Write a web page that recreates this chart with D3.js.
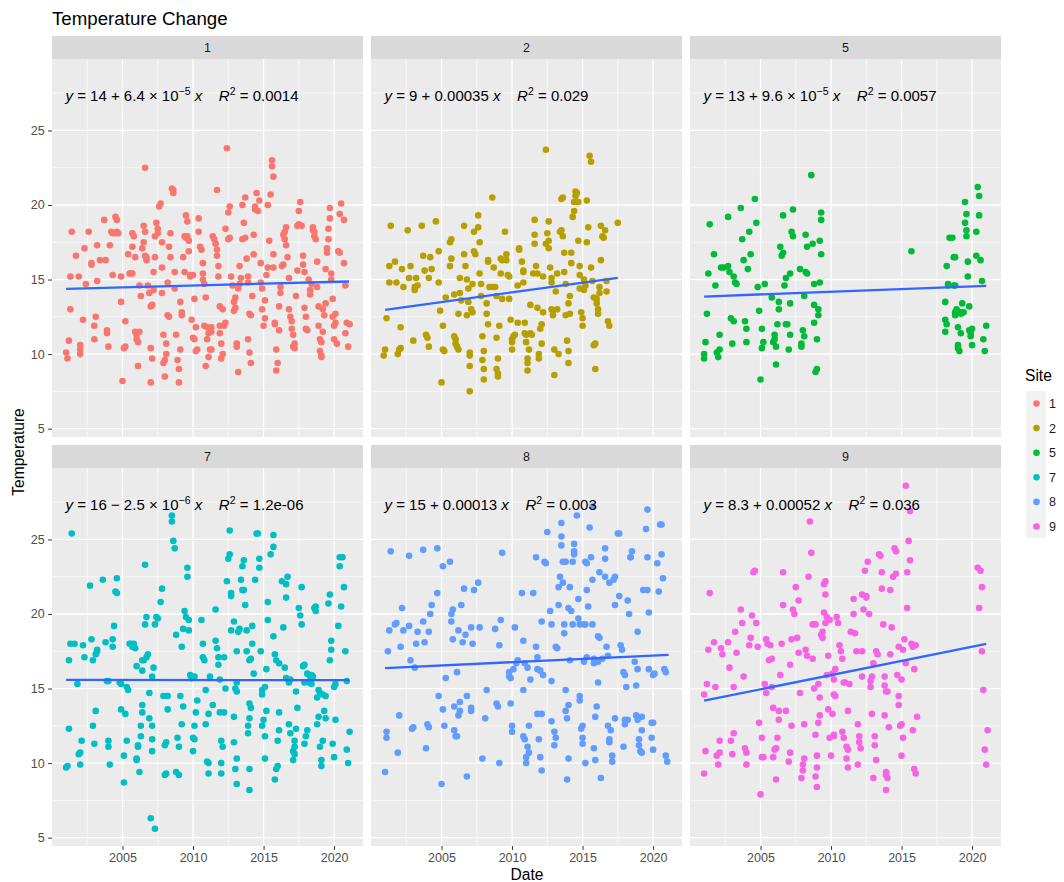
<!DOCTYPE html>
<html>
<head>
<meta charset="utf-8">
<script src="https://cdn.jsdelivr.net/npm/d3@7"></script>
<style>
    body { margin: 0; background: #ffffff; }
    svg { display: block; font-family: "Liberation Sans", Arial, Helvetica, sans-serif; }
</style>
</head>
<body>
<div id="chart"></div>
<script>
(function () {
    "use strict";

    const chartTitle = "Temperature Change";
    const xTitle = "Date";
    const yTitle = "Temperature";
    const legendTitle = "Site";

    const sites = ["1", "2", "5", "7", "8", "9"];
    const siteColors = ["#F8766D", "#B79F00", "#00BA38", "#00BFC4", "#619CFF", "#F564E3"];

    const xTicks = [2005, 2010, 2015, 2020];
    const xMinorTicks = [2002.5, 2007.5, 2012.5, 2017.5];
    const yTicks = [5, 10, 15, 20, 25];
    const yMinorTicks = [7.5, 12.5, 17.5, 22.5, 27.5];

    // lm fits as printed in each facet
    const eqIntercepts = ["14", "9", "13", "16", "15", "8.3"];
    const eqSigns = ["+", "+", "+", "\u2212", "+", "+"];
    const eqSlopes = ["6.4", "0.00035", "9.6", "2.5", "0.00013", "0.00052"];
    const eqExponents = ["\u22125", "", "\u22125", "\u22126", "", ""];
    const eqR2 = ["0.0014", "0.029", "0.0057", "1.2e-06", "0.003", "0.036"];

    // fitted line ends [year, temperature]
    const trendLines = [
        [[2001.0, 14.38], [2021.06, 14.87]],
        [[2001.0, 12.97], [2017.5, 15.11]],
        [[2001.0, 13.86], [2021.0, 14.58]],
        [[2001.0, 15.58], [2021.05, 15.56]],
        [[2001.0, 16.37], [2021.1, 17.26]],
        [[2001.0, 14.19], [2021.0, 17.99]]
    ];

    const site1 = [[2001.0,10.1],[2001.1,9.7],[2001.2,10.9],[2001.3,13.0],[2001.3,15.2],[2001.4,18.2],[2001.7,16.6],[2001.9,15.2],[2002.0,10.6],[2002.0,10.3],[2002.0,10.0],[2002.2,12.3],[2002.3,17.1],[2002.4,14.7],[2002.6,18.2],[2002.8,16.1],[2002.8,16.0],[2003.0,11.0],[2003.0,11.9],[2003.1,12.5],[2003.2,14.9],[2003.2,17.3],[2003.4,16.3],[2003.7,19.0],[2003.8,16.3],[2003.9,11.6],[2003.9,11.4],[2004.0,10.5],[2004.1,17.3],[2004.2,18.2],[2004.3,18.1],[2004.5,18.1],[2004.6,18.2],[2004.7,18.1],[2004.3,15.3],[2004.5,19.2],[2004.6,19.0],[2004.9,15.2],[2004.9,13.5],[2005.0,8.2],[2005.1,10.4],[2005.2,12.2],[2005.2,10.5],[2005.4,16.7],[2005.5,15.4],[2005.6,15.4],[2005.7,15.4],[2005.7,17.2],[2005.7,18.1],[2005.8,17.9],[2005.9,16.5],[2005.9,11.5],[2006.0,11.3],[2006.0,11.0],[2006.1,10.8],[2006.1,9.2],[2006.2,11.5],[2006.2,14.6],[2006.3,13.9],[2006.4,17.1],[2006.5,18.6],[2006.5,17.5],[2006.6,22.5],[2006.6,16.6],[2006.6,18.2],[2006.7,16.3],[2006.7,16.5],[2006.8,14.6],[2006.9,14.1],[2007.0,13.2],[2007.0,8.1],[2007.0,10.4],[2007.1,9.7],[2007.1,13.3],[2007.2,14.3],[2007.2,15.5],[2007.3,17.9],[2007.3,16.5],[2007.4,18.8],[2007.5,18.4],[2007.5,18.1],[2007.6,19.9],[2007.7,20.1],[2007.8,17.5],[2007.8,14.1],[2007.8,15.8],[2007.9,11.3],[2007.9,9.4],[2008.0,9.6],[2008.0,8.5],[2008.1,10.0],[2008.1,10.7],[2008.2,14.8],[2008.2,12.6],[2008.3,12.5],[2008.3,17.2],[2008.4,18.1],[2008.4,16.5],[2008.5,21.1],[2008.6,21.0],[2008.6,20.8],[2008.7,14.4],[2008.7,15.5],[2008.8,11.3],[2008.9,9.6],[2009.0,9.0],[2009.0,8.1],[2009.1,10.3],[2009.1,13.5],[2009.2,12.8],[2009.2,12.6],[2009.3,16.5],[2009.4,15.5],[2009.4,17.9],[2009.5,17.8],[2009.5,19.3],[2009.6,18.9],[2009.6,17.9],[2009.7,17.6],[2009.7,16.9],[2009.8,15.3],[2009.8,15.2],[2009.9,12.3],[2010.0,15.3],[2010.0,11.1],[2010.1,11.0],[2010.2,10.2],[2010.1,13.7],[2010.2,11.8],[2010.3,10.3],[2010.4,18.2],[2010.4,19.1],[2010.5,17.2],[2010.6,17.0],[2010.7,16.1],[2010.7,15.4],[2010.7,15.0],[2010.8,14.7],[2010.8,11.9],[2010.9,13.8],[2010.9,9.2],[2011.0,11.8],[2011.0,11.0],[2011.1,9.8],[2011.1,11.4],[2011.2,10.3],[2011.3,11.8],[2011.3,11.5],[2011.3,10.3],[2011.4,17.9],[2011.5,17.7],[2011.6,17.4],[2011.7,21.0],[2011.7,17.0],[2011.7,16.6],[2011.8,15.9],[2011.8,15.2],[2011.9,13.2],[2011.9,11.9],[2011.9,11.4],[2012.0,10.7],[2012.1,10.0],[2012.0,9.7],[2012.1,13.0],[2012.2,11.9],[2012.3,12.1],[2012.3,18.4],[2012.4,23.8],[2012.5,17.7],[2012.5,19.5],[2012.6,19.9],[2012.6,17.8],[2012.7,15.2],[2012.8,14.6],[2012.9,13.5],[2012.9,12.9],[2013.0,13.1],[2013.0,13.8],[2013.1,10.7],[2013.1,10.5],[2013.2,8.8],[2013.2,14.4],[2013.3,15.9],[2013.3,14.7],[2013.4,15.1],[2013.5,17.7],[2013.5,20.0],[2013.6,18.8],[2013.7,20.5],[2013.7,17.8],[2013.8,16.4],[2013.9,15.2],[2013.9,14.8],[2013.9,11.0],[2014.0,12.7],[2014.0,10.1],[2014.1,9.4],[2014.1,12.6],[2014.2,13.9],[2014.3,16.7],[2014.3,18.0],[2014.4,19.7],[2014.4,19.9],[2014.5,20.8],[2014.6,19.6],[2014.7,20.3],[2014.8,16.1],[2014.8,14.8],[2014.9,14.4],[2014.9,13.0],[2015.0,11.9],[2015.1,12.4],[2015.1,13.6],[2015.2,15.3],[2015.3,15.8],[2015.3,20.0],[2015.4,17.6],[2015.5,20.7],[2015.6,23.0],[2015.6,22.6],[2015.7,21.9],[2015.7,16.7],[2015.7,15.8],[2015.8,12.0],[2015.8,12.1],[2015.9,10.3],[2015.9,8.9],[2016.0,9.4],[2016.1,11.6],[2016.1,13.2],[2016.2,14.1],[2016.2,14.5],[2016.3,15.9],[2016.4,16.0],[2016.4,18.0],[2016.5,17.7],[2016.5,18.2],[2016.6,18.5],[2016.6,17.3],[2016.7,16.5],[2016.8,15.1],[2016.8,13.0],[2016.9,12.5],[2017.0,12.2],[2017.0,11.7],[2017.1,11.3],[2017.1,10.5],[2017.2,10.7],[2017.2,10.4],[2017.3,13.9],[2017.4,15.6],[2017.4,18.6],[2017.5,18.7],[2017.5,19.6],[2017.6,20.2],[2017.7,18.6],[2017.8,16.6],[2017.8,16.0],[2017.9,15.5],[2017.9,13.1],[2018.0,12.5],[2018.0,11.7],[2018.1,11.6],[2018.2,15.0],[2018.3,14.3],[2018.3,14.0],[2018.4,14.7],[2018.5,18.3],[2018.5,18.5],[2018.6,17.9],[2018.6,18.2],[2018.7,17.7],[2018.8,16.2],[2018.8,14.5],[2018.9,13.2],[2018.9,11.9],[2019.0,11.0],[2019.0,10.2],[2019.1,9.9],[2019.1,9.8],[2019.1,10.8],[2019.2,11.5],[2019.2,13.0],[2019.3,12.6],[2019.4,13.4],[2019.4,15.7],[2019.5,16.8],[2019.5,17.1],[2019.6,18.4],[2019.6,17.7],[2019.7,19.8],[2019.7,19.1],[2019.8,15.4],[2019.8,15.0],[2019.9,13.7],[2019.9,12.5],[2020.0,11.9],[2020.0,11.0],[2020.1,12.7],[2020.1,12.1],[2020.2,10.7],[2020.3,16.9],[2020.4,16.8],[2020.4,19.4],[2020.5,20.1],[2020.7,19.0],[2020.7,16.1],[2020.8,14.6],[2020.8,11.4],[2020.9,12.1],[2021.0,10.5],[2021.1,12.0]];

    const site2 = [[2000.9,9.9],[2001.0,10.3],[2001.1,12.4],[2001.3,14.8],[2001.3,15.9],[2001.4,18.6],[2001.7,16.2],[2001.8,14.8],[2001.9,10.0],[2002.0,10.3],[2002.1,10.4],[2002.1,11.8],[2002.2,15.7],[2002.3,14.5],[2002.6,18.3],[2002.7,15.1],[2002.8,15.9],[2003.0,10.9],[2003.1,14.3],[2003.2,15.1],[2003.1,14.5],[2003.3,14.6],[2003.6,18.6],[2003.7,16.6],[2003.8,15.6],[2003.9,11.3],[2004.0,11.1],[2004.1,10.5],[2004.1,15.1],[2004.2,16.5],[2004.3,15.7],[2004.6,18.9],[2004.8,16.9],[2004.8,14.8],[2004.9,12.9],[2005.0,8.1],[2005.1,11.9],[2005.1,10.3],[2005.2,10.2],[2005.3,13.8],[2005.6,15.9],[2005.6,17.5],[2005.7,17.7],[2005.7,16.4],[2005.9,14.0],[2005.9,11.2],[2006.0,11.0],[2006.0,10.7],[2006.1,10.5],[2006.2,10.3],[2006.2,12.7],[2006.3,15.1],[2006.3,14.1],[2006.4,13.6],[2006.6,18.6],[2006.6,16.7],[2006.7,15.9],[2006.8,15.0],[2006.9,14.4],[2006.9,13.5],[2006.8,12.6],[2007.0,10.1],[2007.0,9.9],[2007.0,9.2],[2007.0,7.5],[2007.1,13.0],[2007.2,12.8],[2007.2,14.7],[2007.3,18.2],[2007.3,16.9],[2007.4,16.7],[2007.6,19.3],[2007.6,18.5],[2007.7,17.5],[2007.7,15.4],[2007.8,14.7],[2007.8,13.9],[2007.9,11.2],[2007.9,9.6],[2008.0,9.0],[2008.0,8.3],[2008.0,10.2],[2008.2,13.4],[2008.2,12.7],[2008.3,12.0],[2008.3,16.3],[2008.3,16.2],[2008.4,14.5],[2008.6,20.5],[2008.6,14.5],[2008.7,15.8],[2008.8,14.5],[2008.9,13.9],[2008.9,11.1],[2008.9,9.0],[2009.0,8.7],[2009.0,8.5],[2009.0,9.7],[2009.1,11.9],[2009.2,15.4],[2009.2,16.4],[2009.3,13.7],[2009.3,16.3],[2009.5,18.2],[2009.6,16.3],[2009.6,16.7],[2009.7,15.3],[2009.8,15.2],[2009.8,13.7],[2009.9,12.3],[2010.0,11.0],[2010.0,10.8],[2010.0,10.3],[2010.1,11.2],[2010.2,11.3],[2010.4,12.1],[2010.4,14.6],[2010.5,17.1],[2010.5,17.0],[2010.7,16.2],[2010.8,15.6],[2010.8,15.5],[2010.8,14.8],[2010.9,12.1],[2010.9,11.4],[2011.0,11.3],[2011.0,10.8],[2011.1,9.7],[2011.1,9.4],[2011.1,8.9],[2011.2,10.3],[2011.3,11.4],[2011.3,13.3],[2011.4,11.3],[2011.5,15.4],[2011.6,18.0],[2011.6,17.4],[2011.6,19.0],[2011.7,15.9],[2011.8,15.4],[2011.8,13.1],[2011.9,10.0],[2011.9,9.7],[2012.0,11.7],[2012.1,12.0],[2012.1,10.7],[2012.2,15.2],[2012.2,12.8],[2012.4,23.7],[2012.4,17.4],[2012.5,18.1],[2012.6,18.9],[2012.6,17.6],[2012.6,17.1],[2012.7,15.8],[2012.8,15.1],[2012.8,14.8],[2012.8,13.0],[2012.9,12.6],[2012.9,12.9],[2013.0,10.3],[2013.0,8.6],[2013.1,14.2],[2013.2,13.0],[2013.2,15.4],[2013.3,10.0],[2013.4,18.2],[2013.5,18.3],[2013.5,20.4],[2013.6,20.5],[2013.6,17.9],[2013.7,16.8],[2013.7,15.5],[2013.8,14.7],[2013.8,12.6],[2013.9,10.9],[2014.0,10.2],[2014.0,9.4],[2014.0,13.4],[2014.1,12.7],[2014.1,13.9],[2014.2,16.1],[2014.2,16.8],[2014.3,19.2],[2014.4,20.2],[2014.4,19.6],[2014.5,20.6],[2014.5,20.9],[2014.6,20.8],[2014.7,20.2],[2014.7,17.6],[2014.8,15.9],[2014.8,15.3],[2014.8,14.4],[2014.9,12.8],[2015.0,12.4],[2015.0,11.9],[2015.1,14.3],[2015.1,15.0],[2015.2,14.6],[2015.3,17.5],[2015.3,20.3],[2015.4,18.5],[2015.5,23.3],[2015.6,22.9],[2015.6,15.8],[2015.7,14.9],[2015.8,13.8],[2015.8,10.6],[2015.9,10.7],[2015.9,9.0],[2016.0,13.7],[2016.0,13.4],[2016.1,13.0],[2016.1,12.7],[2016.2,14.5],[2016.2,14.1],[2016.3,16.3],[2016.3,18.6],[2016.4,17.9],[2016.5,17.8],[2016.6,18.3],[2016.7,14.9],[2016.7,14.2],[2016.8,12.2],[2016.9,11.9],[2017.5,18.8]];

    const site5 = [[2001.0,9.7],[2001.0,10.0],[2001.1,10.8],[2001.2,12.7],[2001.3,15.4],[2001.4,18.7],[2001.7,16.7],[2001.8,14.6],[2001.9,10.1],[2002.0,9.8],[2002.1,10.3],[2002.1,11.3],[2002.2,15.8],[2002.4,15.8],[2002.7,19.2],[2002.7,15.9],[2002.8,15.5],[2003.0,10.7],[2002.9,12.4],[2003.1,12.2],[2003.1,15.2],[2003.2,14.8],[2003.3,14.7],[2003.6,19.8],[2003.7,17.7],[2003.8,16.3],[2003.9,12.2],[2004.0,11.7],[2004.0,10.8],[2004.1,15.7],[2004.2,18.2],[2004.3,16.7],[2004.6,20.4],[2004.7,18.8],[2004.8,14.5],[2004.9,12.9],[2005.0,8.3],[2005.1,10.4],[2005.1,11.7],[2005.2,10.8],[2005.3,14.7],[2005.8,13.8],[2005.9,10.8],[2006.0,11.0],[2006.0,11.3],[2006.1,10.5],[2006.1,9.3],[2006.2,12.0],[2006.3,13.0],[2006.3,13.5],[2006.4,17.2],[2006.5,16.6],[2006.6,19.3],[2006.6,16.8],[2006.7,14.6],[2006.8,15.1],[2006.8,12.0],[2006.9,12.0],[2007.0,10.3],[2007.1,11.3],[2007.1,13.4],[2007.1,15.4],[2007.2,18.2],[2007.3,17.9],[2007.3,19.7],[2007.8,15.7],[2007.9,10.5],[2007.9,10.7],[2008.0,11.6],[2008.1,11.2],[2008.1,13.9],[2008.2,18.0],[2008.3,17.2],[2008.2,15.5],[2008.3,15.4],[2008.6,22.0],[2008.7,17.4],[2008.8,14.7],[2008.8,13.3],[2008.8,12.1],[2008.9,8.8],[2009.0,9.0],[2009.0,11.0],[2009.1,12.6],[2009.1,13.0],[2009.2,17.6],[2009.2,14.8],[2009.3,16.7],[2009.3,19.0],[2009.3,19.5],[2015.7,16.9],[2018.1,11.5],[2018.1,12.3],[2018.2,12.0],[2018.2,15.9],[2018.3,14.7],[2018.3,14.6],[2018.4,17.8],[2018.6,17.8],[2018.7,16.5],[2018.8,16.5],[2018.7,14.6],[2018.8,14.6],[2018.1,13.5],[2018.8,12.8],[2018.8,12.6],[2018.9,13.0],[2019.0,11.8],[2019.0,10.4],[2019.0,10.6],[2019.1,10.2],[2019.2,11.4],[2019.2,12.8],[2019.2,12.7],[2019.3,13.4],[2019.4,12.8],[2019.5,20.2],[2019.6,19.4],[2019.5,18.8],[2019.6,17.9],[2019.6,18.3],[2019.7,15.2],[2019.7,16.2],[2019.8,13.2],[2019.8,11.6],[2019.9,11.4],[2019.9,11.2],[2020.0,11.7],[2020.0,10.6],[2020.3,16.6],[2020.3,18.2],[2020.4,21.2],[2020.5,20.6],[2020.5,19.3],[2020.6,16.3],[2020.7,14.9],[2020.8,11.0],[2020.9,10.2],[2021.0,11.9]];

    const site7 = [[2001.2,16.9],[2001.3,18.0],[2001.4,25.4],[2001.6,18.0],[2001.8,15.3],[2002.2,17.9],[2002.3,17.1],[2002.7,21.9],[2002.8,18.3],[2002.9,16.9],[2003.1,17.3],[2003.2,17.5],[2003.2,17.6],[2003.6,22.3],[2003.8,18.1],[2003.9,15.5],[2004.0,15.5],[2004.3,17.8],[2004.3,18.3],[2004.4,19.2],[2004.5,21.5],[2004.6,22.4],[2004.6,21.4],[2004.8,15.4],[2004.9,15.3],[2005.3,15.1],[2005.4,14.9],[2005.5,18.0],[2005.6,18.0],[2005.7,17.8],[2005.8,18.0],[2005.9,17.7],[2006.0,16.5],[2006.4,16.2],[2006.4,16.9],[2006.5,16.9],[2006.6,19.3],[2006.6,23.3],[2006.7,19.8],[2006.7,17.1],[2006.8,17.3],[2006.9,14.7],[2007.1,15.8],[2007.2,16.4],[2007.3,19.3],[2007.4,19.8],[2007.5,19.7],[2007.7,20.8],[2007.8,21.7],[2007.9,14.5],[2008.2,14.5],[2008.5,26.6],[2008.5,26.2],[2008.6,24.9],[2008.7,24.4],[2008.8,18.6],[2009.1,14.5],[2009.2,17.8],[2009.3,19.0],[2009.4,20.2],[2009.5,19.8],[2009.6,22.5],[2009.6,23.1],[2009.7,19.6],[2009.7,18.9],[2009.8,15.9],[2009.9,15.7],[2010.1,15.8],[2010.6,19.6],[2010.7,18.0],[2010.7,17.1],[2010.8,16.9],[2010.9,14.9],[2011.2,15.8],[2011.6,20.3],[2011.6,18.2],[2011.7,17.7],[2011.8,16.6],[2011.8,17.1],[2011.9,15.6],[2012.2,17.1],[2012.3,15.0],[2012.4,22.2],[2012.5,23.7],[2012.6,24.0],[2012.6,25.6],[2012.7,21.2],[2012.7,21.4],[2012.7,18.9],[2012.9,19.5],[2013.0,15.0],[2013.1,14.8],[2013.1,15.4],[2013.1,17.5],[2013.2,18.8],[2013.3,19.0],[2013.4,22.3],[2013.5,21.6],[2013.5,23.2],[2013.6,23.6],[2013.6,21.6],[2013.7,20.6],[2013.8,17.5],[2013.8,18.9],[2014.0,14.0],[2014.0,16.9],[2014.1,17.0],[2014.2,18.0],[2014.2,19.2],[2014.3,16.0],[2014.4,22.3],[2014.5,25.4],[2014.6,25.4],[2014.7,23.1],[2014.7,23.7],[2014.8,17.5],[2014.9,14.6],[2014.9,14.9],[2015.1,15.1],[2015.2,16.3],[2015.3,20.8],[2015.3,19.6],[2015.5,24.0],[2015.7,25.3],[2015.7,24.5],[2015.7,18.5],[2015.8,17.3],[2015.9,16.9],[2016.1,16.7],[2016.3,22.2],[2016.4,19.1],[2016.5,16.4],[2016.6,15.7],[2016.6,21.1],[2016.6,22.0],[2016.7,22.5],[2016.8,15.4],[2016.9,15.6],[2017.3,14.8],[2017.5,20.4],[2017.6,19.9],[2017.7,19.3],[2017.7,21.8],[2017.8,16.5],[2017.9,16.6],[2017.9,15.4],[2018.1,16.0],[2018.2,15.4],[2018.3,15.8],[2018.4,15.9],[2018.4,15.3],[2018.5,15.8],[2018.6,20.4],[2018.7,20.5],[2018.7,20.2],[2018.8,14.4],[2018.9,14.9],[2019.0,14.7],[2019.2,14.6],[2019.4,14.5],[2019.6,20.7],[2019.7,21.3],[2019.7,16.9],[2019.8,18.2],[2019.8,17.6],[2020.0,15.1],[2020.1,15.3],[2020.3,19.2],[2020.4,23.2],[2020.4,23.8],[2020.5,20.5],[2020.6,23.8],[2020.7,21.8],[2020.8,17.5],[2020.9,15.5],[2001.0,9.7],[2001.1,9.8],[2001.2,12.3],[2001.9,10.6],[2002.0,10.7],[2002.1,11.5],[2002.0,9.9],[2002.9,12.5],[2003.0,11.3],[2003.1,13.5],[2004.0,11.5],[2004.0,11.1],[2004.1,9.9],[2004.9,13.6],[2005.1,8.7],[2005.1,10.5],[2005.2,13.3],[2005.3,11.5],[2006.0,10.2],[2006.0,10.3],[2006.1,11.1],[2006.1,11.2],[2006.2,9.4],[2006.3,12.5],[2006.3,11.8],[2006.4,13.4],[2006.4,13.9],[2006.9,13.0],[2007.1,10.8],[2007.1,12.5],[2007.1,11.6],[2007.0,6.3],[2007.3,5.6],[2008.0,11.2],[2008.0,9.2],[2008.1,9.3],[2008.1,11.4],[2008.2,13.6],[2008.8,9.4],[2008.9,11.7],[2009.0,9.2],[2009.0,11.1],[2009.2,12.6],[2009.3,13.8],[2010.0,10.8],[2010.0,11.7],[2010.1,12.5],[2010.1,11.6],[2010.2,13.4],[2010.3,14.2],[2010.9,12.6],[2011.0,10.1],[2011.1,10.0],[2011.1,9.3],[2011.1,13.3],[2011.4,13.9],[2011.9,13.4],[2012.0,10.0],[2012.0,9.3],[2012.0,11.5],[2012.1,11.1],[2012.2,13.4],[2012.9,13.1],[2012.9,11.4],[2013.0,9.6],[2013.1,8.6],[2013.1,10.3],[2013.9,12.0],[2013.9,12.5],[2014.0,13.0],[2014.0,8.2],[2014.0,9.6],[2014.1,13.7],[2014.9,12.5],[2015.0,12.9],[2015.1,11.8],[2015.1,10.3],[2015.2,13.5],[2015.8,8.9],[2015.9,9.6],[2016.0,9.8],[2016.0,11.5],[2016.1,12.2],[2016.1,13.4],[2016.8,12.6],[2016.9,12.0],[2017.1,10.2],[2017.1,10.8],[2017.2,11.1],[2017.2,11.5],[2017.2,10.6],[2017.3,12.3],[2017.4,13.7],[2017.9,11.3],[2018.0,11.8],[2018.1,12.2],[2018.8,12.6],[2018.9,13.1],[2019.0,11.1],[2019.1,10.2],[2019.1,9.8],[2019.2,11.5],[2019.3,13.5],[2019.4,13.0],[2019.9,11.3],[2020.0,10.4],[2020.1,12.9],[2020.9,10.9],[2021.0,10.0],[2021.1,12.1]];

    const site8 = [[2001.4,24.2],[2001.3,18.9],[2001.2,17.5],[2001.8,19.4],[2001.7,19.3],[2002.1,17.8],[2002.2,20.4],[2002.3,18.9],[2002.7,23.9],[2002.7,19.2],[2002.8,16.9],[2003.1,16.4],[2003.2,18.0],[2003.3,18.8],[2003.7,24.3],[2003.7,19.5],[2003.8,18.1],[2004.1,18.8],[2004.2,20.0],[2004.3,20.6],[2004.7,24.4],[2004.7,21.4],[2004.8,14.5],[2005.1,23.2],[2005.3,15.7],[2005.6,23.5],[2005.7,19.5],[2005.7,20.0],[2005.8,20.3],[2005.8,18.3],[2006.1,16.1],[2006.2,18.9],[2006.4,20.6],[2006.5,18.1],[2006.7,18.6],[2006.6,21.7],[2006.8,14.5],[2007.1,19.1],[2007.2,18.0],[2007.3,21.6],[2007.6,22.1],[2007.7,19.1],[2008.2,14.9],[2008.8,19.0],[2009.1,17.9],[2009.2,19.6],[2009.3,24.1],[2009.8,16.1],[2009.8,15.8],[2009.9,15.7],[2010.1,16.3],[2010.2,19.1],[2010.3,16.7],[2010.4,16.9],[2010.7,21.4],[2010.8,18.2],[2010.8,14.9],[2010.9,16.7],[2011.1,16.4],[2011.3,15.6],[2011.5,21.4],[2011.7,23.8],[2011.7,17.8],[2011.8,16.3],[2011.8,17.1],[2012.0,16.2],[2012.1,19.5],[2012.2,15.9],[2012.3,23.5],[2012.4,23.4],[2012.5,25.5],[2012.7,20.2],[2012.8,19.3],[2012.8,15.5],[2013.1,17.8],[2013.2,17.7],[2013.3,20.6],[2013.3,21.8],[2013.4,22.5],[2013.5,26.1],[2013.5,25.2],[2013.5,24.6],[2013.6,23.5],[2013.6,22.1],[2013.7,19.3],[2013.7,18.7],[2013.8,14.9],[2013.8,23.5],[2014.0,20.4],[2014.1,16.9],[2014.1,21.8],[2014.2,20.2],[2014.3,19.3],[2014.3,23.5],[2014.4,24.2],[2014.4,24.7],[2014.4,24.0],[2014.6,26.6],[2014.7,21.0],[2014.7,19.7],[2014.8,19.3],[2014.8,14.5],[2015.1,16.8],[2015.1,19.3],[2015.2,19.3],[2015.2,23.5],[2015.3,23.4],[2015.3,21.6],[2015.3,17.1],[2015.4,20.5],[2015.5,25.8],[2015.6,23.8],[2015.7,22.3],[2015.7,27.2],[2015.7,19.3],[2015.8,17.0],[2015.8,16.7],[2016.1,15.4],[2016.1,16.8],[2016.1,18.5],[2016.2,18.4],[2016.2,22.8],[2016.4,17.0],[2016.6,24.4],[2016.6,22.5],[2016.6,23.7],[2016.7,17.8],[2016.8,17.2],[2016.9,22.1],[2017.2,22.3],[2017.3,20.6],[2017.3,22.5],[2017.5,25.4],[2017.6,25.4],[2017.6,21.2],[2017.7,17.9],[2017.8,17.6],[2017.9,16.1],[2018.0,15.9],[2018.1,15.1],[2018.2,20.9],[2018.3,20.0],[2018.4,23.8],[2018.4,23.8],[2018.5,24.2],[2018.7,16.8],[2018.8,15.2],[2018.9,18.8],[2018.9,16.3],[2019.3,21.6],[2019.5,25.7],[2019.6,23.8],[2019.6,27.0],[2019.6,21.6],[2019.7,20.1],[2019.7,16.3],[2020.0,15.9],[2020.1,16.0],[2020.3,23.4],[2020.4,21.5],[2020.5,26.0],[2020.6,26.0],[2020.6,24.0],[2020.7,22.4],[2020.8,16.3],[2020.9,16.1],[2001.0,9.4],[2001.1,12.1],[2001.1,11.7],[2001.9,10.7],[2002.0,13.2],[2002.9,12.3],[2003.0,12.4],[2003.9,11.0],[2004.0,12.6],[2004.1,12.4],[2005.0,8.6],[2005.1,13.6],[2005.2,12.5],[2005.9,13.8],[2005.9,12.2],[2006.0,11.8],[2006.1,11.8],[2006.2,13.2],[2006.3,13.5],[2006.3,14.1],[2006.8,9.1],[2007.1,13.7],[2007.1,13.5],[2007.9,10.3],[2008.1,13.0],[2008.9,14.0],[2009.0,13.8],[2009.1,10.0],[2009.9,14.0],[2010.0,12.1],[2010.0,12.5],[2010.8,11.8],[2010.9,11.6],[2011.0,10.4],[2011.0,10.0],[2011.1,11.1],[2011.2,10.7],[2011.2,12.5],[2011.8,13.3],[2011.9,11.6],[2012.0,10.4],[2012.1,13.3],[2012.1,9.5],[2012.8,12.8],[2013.0,11.2],[2013.0,12.1],[2013.1,11.7],[2013.8,13.5],[2013.9,13.0],[2013.9,8.9],[2014.0,10.3],[2014.0,13.9],[2014.8,14.2],[2014.9,12.3],[2015.0,12.5],[2015.0,11.7],[2015.0,11.3],[2015.2,10.0],[2015.8,11.0],[2015.9,13.1],[2015.9,10.2],[2016.0,13.8],[2016.3,9.0],[2016.8,12.5],[2016.9,11.4],[2016.9,11.6],[2017.0,12.2],[2017.1,10.5],[2017.1,10.1],[2017.3,13.0],[2017.9,11.1],[2018.0,12.6],[2018.0,12.9],[2018.2,12.9],[2018.8,13.2],[2018.9,12.9],[2019.0,11.6],[2019.0,11.2],[2019.1,10.8],[2019.2,10.7],[2019.2,12.2],[2019.2,13.1],[2019.9,12.7],[2020.0,10.9],[2019.9,11.7],[2020.0,12.7],[2020.9,10.5],[2021.0,10.1]];

    const site9 = [[2001.0,14.6],[2001.2,15.3],[2001.3,17.6],[2001.4,21.4],[2001.7,18.1],[2001.8,15.1],[2002.2,17.7],[2002.3,17.3],[2002.7,18.1],[2002.8,16.4],[2003.1,15.1],[2003.2,18.8],[2003.3,17.4],[2003.6,20.3],[2003.7,19.4],[2003.8,15.8],[2004.2,17.9],[2004.3,18.4],[2004.4,19.9],[2004.5,22.8],[2004.6,22.9],[2004.7,19.4],[2004.8,17.8],[2005.3,15.3],[2005.4,14.7],[2005.4,18.3],[2005.5,18.0],[2005.6,16.9],[2005.7,17.9],[2005.8,17.0],[2005.8,15.1],[2006.4,15.9],[2006.5,18.0],[2006.6,22.8],[2006.6,20.6],[2007.1,16.6],[2007.2,18.3],[2007.3,20.3],[2007.4,20.0],[2007.5,21.8],[2007.6,18.4],[2007.7,17.4],[2007.8,14.7],[2007.7,20.9],[2008.2,17.6],[2008.3,17.2],[2008.4,22.5],[2008.5,26.2],[2008.6,24.1],[2008.7,19.3],[2008.7,17.0],[2008.8,15.0],[2008.9,19.3],[2009.1,15.3],[2009.2,14.4],[2009.3,18.6],[2009.4,18.4],[2009.4,18.8],[2009.5,20.1],[2009.5,22.0],[2009.6,22.2],[2009.6,21.3],[2009.6,19.4],[2009.7,19.8],[2009.7,15.9],[2009.8,17.2],[2009.9,19.6],[2010.1,16.0],[2010.2,14.6],[2010.2,15.6],[2010.3,14.5],[2010.3,16.3],[2010.4,19.8],[2010.5,19.4],[2010.6,17.9],[2010.7,17.5],[2010.8,17.0],[2010.9,15.4],[2011.0,15.4],[2011.3,15.3],[2011.4,18.8],[2011.6,21.0],[2011.6,20.0],[2011.7,18.7],[2011.8,17.5],[2012.2,15.8],[2012.2,17.5],[2012.2,21.3],[2012.3,20.3],[2012.4,22.9],[2012.5,21.2],[2012.5,21.1],[2012.6,23.5],[2012.7,20.0],[2012.8,15.1],[2012.8,15.5],[2012.9,15.8],[2013.0,16.7],[2013.2,17.5],[2013.3,17.3],[2013.4,24.0],[2013.5,23.9],[2013.6,22.8],[2013.6,21.7],[2013.7,19.3],[2013.8,15.8],[2013.8,15.2],[2013.9,14.8],[2014.0,14.8],[2014.2,21.6],[2014.2,17.3],[2014.3,19.1],[2014.4,22.5],[2014.5,24.4],[2014.6,24.2],[2014.6,22.7],[2014.7,15.9],[2014.8,17.8],[2014.8,14.5],[2015.0,15.6],[2015.1,17.6],[2015.2,18.3],[2015.3,28.6],[2015.3,16.7],[2015.4,22.8],[2015.4,20.4],[2015.5,24.9],[2015.6,26.9],[2015.6,23.6],[2015.7,18.0],[2015.8,17.8],[2015.9,16.3],[2016.0,17.9],[2020.4,23.1],[2020.5,20.4],[2020.6,22.9],[2020.7,21.8],[2020.7,17.5],[2020.8,14.9],[2001.0,9.3],[2001.1,10.8],[2001.9,10.5],[2002.0,9.9],[2002.1,10.7],[2002.1,11.5],[2002.9,11.5],[2003.0,10.6],[2003.1,12.0],[2003.9,11.0],[2004.0,10.7],[2004.0,9.9],[2004.9,12.7],[2005.0,7.9],[2005.1,10.4],[2005.1,11.7],[2005.2,10.4],[2005.9,10.4],[2005.9,13.7],[2006.0,10.9],[2006.1,11.0],[2006.1,8.9],[2006.2,11.7],[2006.3,12.9],[2006.3,13.5],[2006.8,13.5],[2007.0,10.1],[2007.1,10.7],[2007.2,12.5],[2007.9,9.0],[2008.0,9.5],[2008.0,9.9],[2008.1,10.3],[2008.1,12.6],[2008.9,11.9],[2008.9,9.1],[2009.0,8.4],[2009.0,10.5],[2009.0,9.7],[2009.1,12.7],[2009.2,13.2],[2009.8,13.6],[2009.9,11.7],[2010.0,10.5],[2010.1,13.3],[2010.2,11.8],[2010.2,11.9],[2010.8,12.1],[2010.9,11.7],[2011.1,11.1],[2011.1,10.3],[2011.2,10.9],[2011.2,9.7],[2011.2,13.5],[2011.9,12.6],[2011.9,9.9],[2012.0,11.8],[2012.0,11.4],[2012.1,11.0],[2012.9,13.3],[2013.0,9.0],[2013.1,11.8],[2013.1,11.2],[2013.2,10.2],[2013.8,13.2],[2013.9,9.4],[2013.9,9.2],[2014.0,9.0],[2013.9,8.2],[2014.1,12.4],[2014.8,13.9],[2014.9,12.5],[2015.0,12.6],[2015.1,11.7],[2015.0,10.5],[2015.8,12.2],[2015.9,9.6],[2016.0,9.3],[2016.1,13.1],[2020.9,10.9],[2021.0,9.9],[2021.1,12.2]];

    const sitePoints = [site1, site2, site5, site7, site8, site9];

    const fontFamily = "'Liberation Sans', Arial, Helvetica, sans-serif";
    const panelLeft = [52, 371, 690];
    const stripTop = [36, 445];
    const stripHeight = 23;
    const panelWidth = 311;
    const panelHeight = 378;

    const xScale = d3.scaleLinear()
        .domain([2000.0, 2022.05])
        .range([0, panelWidth]);

    const yScale = d3.scaleLinear()
        .domain([4.44, 29.79])
        .range([panelHeight, 0]);

    const svg = d3.select("#chart")
        .append("svg")
        .attr("width", 1064)
        .attr("height", 882);

    svg.append("text")
        .attr("x", 52)
        .attr("y", 25)
        .attr("font-size", 18.7)
        .attr("fill", "#000")
        .text(chartTitle);

    const line = d3.line()
        .x(d => xScale(d[0]))
        .y(d => yScale(d[1]));

    sites.forEach((site, i) => {
        const col = i % 3;
        const row = Math.floor(i / 3);

        const facet = svg.append("g")
            .attr("transform", `translate(${panelLeft[col]},${stripTop[row]})`);

        facet.append("rect")
            .attr("width", panelWidth)
            .attr("height", stripHeight)
            .attr("fill", "#D9D9D9");

        facet.append("text")
            .attr("x", panelWidth / 2)
            .attr("y", stripHeight / 2)
            .attr("dy", "0.36em")
            .attr("text-anchor", "middle")
            .attr("font-size", 12.5)
            .attr("fill", "#1A1A1A")
            .text(site);

        const panel = facet.append("g")
            .attr("transform", `translate(0,${stripHeight})`);

        panel.append("rect")
            .attr("width", panelWidth)
            .attr("height", panelHeight)
            .attr("fill", "#EBEBEB");

        // minor grid
        panel.selectAll(".xminor")
            .data(xMinorTicks)
            .join("line")
            .attr("x1", d => xScale(d))
            .attr("x2", d => xScale(d))
            .attr("y2", panelHeight)
            .attr("stroke", "#fff")
            .attr("stroke-width", 0.65);

        panel.selectAll(".yminor")
            .data(yMinorTicks)
            .join("line")
            .attr("y1", d => yScale(d))
            .attr("y2", d => yScale(d))
            .attr("x2", panelWidth)
            .attr("stroke", "#fff")
            .attr("stroke-width", 0.65);

        // major grid
        panel.selectAll(".xmajor")
            .data(xTicks)
            .join("line")
            .attr("x1", d => xScale(d))
            .attr("x2", d => xScale(d))
            .attr("y2", panelHeight)
            .attr("stroke", "#fff")
            .attr("stroke-width", 1.3);

        panel.selectAll(".ymajor")
            .data(yTicks)
            .join("line")
            .attr("y1", d => yScale(d))
            .attr("y2", d => yScale(d))
            .attr("x2", panelWidth)
            .attr("stroke", "#fff")
            .attr("stroke-width", 1.3);

        panel.append("g")
            .selectAll("circle")
            .data(sitePoints[i])
            .join("circle")
            .attr("cx", d => xScale(d[0]))
            .attr("cy", d => yScale(d[1]))
            .attr("r", 3.3)
            .attr("fill", siteColors[i]);

        panel.append("path")
            .datum(trendLines[i])
            .attr("d", line)
            .attr("fill", "none")
            .attr("stroke", "#3366FF")
            .attr("stroke-width", 2.3);

        // equation label
        const eq = panel.append("text")
            .attr("x", 13.5)
            .attr("y", 42)
            .attr("font-size", 15)
            .attr("fill", "#000")
            .style("white-space", "pre");

        eq.append("tspan").attr("font-style", "italic").text("y");
        let body = " = " + eqIntercepts[i] + " " + eqSigns[i] + " " + eqSlopes[i];
        if (eqExponents[i]) {
            body += " \u00D7 10";
        }
        eq.append("tspan").text(body);
        let shift = 0;
        if (eqExponents[i]) {
            eq.append("tspan").attr("dy", -6).attr("font-size", 10.5).text(eqExponents[i]);
            shift = 6;
        }
        eq.append("tspan").attr("dy", shift).text(" ");
        eq.append("tspan").attr("font-style", "italic").text("x");
        eq.append("tspan").text("    ");
        eq.append("tspan").attr("font-style", "italic").text("R");
        eq.append("tspan").attr("dy", -6).attr("font-size", 10.5).text("2");
        eq.append("tspan").attr("dy", 6).text(" = " + eqR2[i]);

        if (col === 0) {
            panel.append("g")
                .call(d3.axisLeft(yScale).tickValues(yTicks).tickSize(3.9).tickPadding(3.5))
                .call(g => g.select(".domain").remove())
                .call(g => g.selectAll("line").attr("stroke", "#333333").attr("stroke-width", 1))
                .call(g => g.selectAll("text").attr("fill", "#4D4D4D"))
                .attr("font-size", 12.5)
                .attr("font-family", fontFamily);
        }

        if (row === 1) {
            panel.append("g")
                .attr("transform", `translate(0,${panelHeight})`)
                .call(d3.axisBottom(xScale).tickValues(xTicks).tickFormat(d3.format("d")).tickSize(3.9).tickPadding(3))
                .call(g => g.select(".domain").remove())
                .call(g => g.selectAll("line").attr("stroke", "#333333").attr("stroke-width", 1))
                .call(g => g.selectAll("text").attr("fill", "#4D4D4D"))
                .attr("font-size", 12.5)
                .attr("font-family", fontFamily);
        }
    });

    svg.append("text")
        .attr("transform", "translate(23.5,452) rotate(-90)")
        .attr("text-anchor", "middle")
        .attr("font-size", 15.6)
        .attr("fill", "#000")
        .text(yTitle);

    svg.append("text")
        .attr("x", 527)
        .attr("y", 880)
        .attr("text-anchor", "middle")
        .attr("font-size", 15.6)
        .attr("fill", "#000")
        .text(xTitle);

    // legend
    const legend = svg.append("g");

    legend.append("text")
        .attr("x", 1025)
        .attr("y", 381)
        .attr("font-size", 15.6)
        .attr("fill", "#000")
        .text(legendTitle);

    legend.append("rect")
        .attr("x", 1026)
        .attr("y", 391)
        .attr("width", 20)
        .attr("height", 147)
        .attr("fill", "#F2F2F2");

    const keys = legend.selectAll(".key")
        .data(sites)
        .join("g")
        .attr("transform", (d, i) => `translate(1036.5,${403.5 + i * 24.6})`);

    keys.append("circle")
        .attr("r", 3.3)
        .attr("fill", (d, i) => siteColors[i]);

    keys.append("text")
        .attr("x", 12.5)
        .attr("dy", "0.36em")
        .attr("font-size", 12.5)
        .attr("fill", "#1A1A1A")
        .text(d => d);
}());
</script>
</body>
</html>
